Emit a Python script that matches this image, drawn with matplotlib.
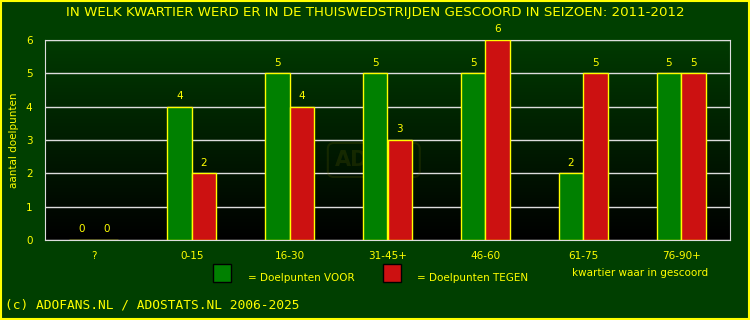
import numpy as np
import matplotlib.pyplot as plt
from matplotlib.colors import LinearSegmentedColormap
from matplotlib.patches import Rectangle, FancyBboxPatch

kwartieren = ['?', '0-15', '16-30', '31-45+', '46-60', '61-75', '76-90+']
voor = [0, 4, 5, 5, 5, 2, 5]
tegen = [0, 2, 4, 3, 6, 5, 5]

geel = '#FFFF00'
bg = '#003F00'
fs = 7.5

fig = plt.figure(figsize=(7.5, 3.2), dpi=100, facecolor=bg)
ax = fig.add_axes([45 / 750, 80 / 320, 685 / 750, 200 / 320])
ax.set_facecolor('black')

# verloop van donkergroen naar zwart
cmap = LinearSegmentedColormap.from_list('verloop', ['#000000', '#003A00'])
grad = np.linspace(0, 1, 256).reshape(-1, 1)
ax.imshow(grad, extent=[-0.5, 6.5, 0, 6], origin='lower', aspect='auto', cmap=cmap, zorder=0)

x = np.arange(len(kwartieren))
w = 0.25
ax.bar(x - w / 2, voor, w, color='#008000', edgecolor=geel, linewidth=1, zorder=3)
ax.bar(x + w / 2, tegen, w, color='#CC1111', edgecolor=geel, linewidth=1, zorder=3)

for i in range(len(kwartieren)):
    ax.text(x[i] - w / 2, voor[i] + 0.17, str(voor[i]), color=geel, ha='center', va='bottom', fontsize=fs)
    ax.text(x[i] + w / 2, tegen[i] + 0.17, str(tegen[i]), color=geel, ha='center', va='bottom', fontsize=fs)

ax.set_xlim(-0.5, 6.5)
ax.set_ylim(0, 6)
ax.set_yticks(range(7))
ax.set_xticks(x)
ax.set_xticklabels(kwartieren)
ax.tick_params(colors=geel, labelsize=fs, length=0, pad=8)
ax.tick_params(axis='y', pad=9)
ax.grid(axis='y', color='#DDDDDD', linewidth=1, zorder=1)
for s in ax.spines.values():
    s.set_color('#DDDDDD')
ax.set_ylabel('aantal doelpunten', color=geel, fontsize=fs, labelpad=5)

# watermerk
ax.add_patch(FancyBboxPatch((2.39, 1.89), 0.94, 1.02, boxstyle='round,pad=0,rounding_size=0.06',
                            facecolor='none', edgecolor='#6B6B00', alpha=0.2, linewidth=1.5, zorder=2,
                            mutation_aspect=3))
ax.text(2.46, 2.4, 'ADO', color='#6B6B00', alpha=0.2, fontsize=15, fontweight='bold',
        ha='left', va='center', zorder=2)

fig.text(0.5, 0.96, 'IN WELK KWARTIER WERD ER IN DE THUISWEDSTRIJDEN GESCOORD IN SEIZOEN: 2011-2012',
         color=geel, ha='center', va='center', fontsize=9.6)

# legenda
fig.patches.append(Rectangle((213 / 750, 1 - 282 / 320), 18 / 750, 18 / 320, transform=fig.transFigure,
                             facecolor='#008000', edgecolor='black', linewidth=1))
fig.text(248 / 750, 1 - 278 / 320, '= Doelpunten VOOR', color=geel, fontsize=fs, va='center')
fig.patches.append(Rectangle((383 / 750, 1 - 282 / 320), 18 / 750, 18 / 320, transform=fig.transFigure,
                             facecolor='#CC1111', edgecolor='black', linewidth=1))
fig.text(417 / 750, 1 - 278 / 320, '= Doelpunten TEGEN', color=geel, fontsize=fs, va='center')
fig.text(572 / 750, 1 - 273 / 320, 'kwartier waar in gescoord', color=geel, fontsize=fs, va='center')

fig.text(5 / 750, 1 - 305 / 320, '(c) ADOFANS.NL / ADOSTATS.NL 2006-2025', color=geel, fontsize=9.3,
         family='DejaVu Sans Mono', va='center')

fig.patches.append(Rectangle((0.001, 0.002), 0.997, 0.995, transform=fig.transFigure,
                             facecolor='none', edgecolor=geel, linewidth=1.5))

fig.savefig('out.png', dpi=100, facecolor=bg)
